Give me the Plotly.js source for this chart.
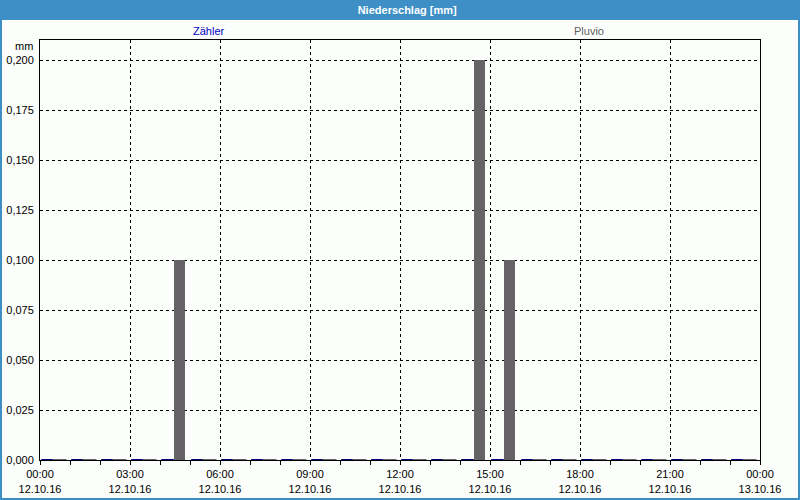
<!DOCTYPE html>
<html>
<head>
<meta charset="utf-8">
<script src="https://cdn.plot.ly/plotly-3.0.1.min.js"></script>
<style>
  html, body { margin: 0; padding: 0; background: #fcfefc; }
  #chart { width: 800px; height: 500px; }
</style>
</head>
<body>
<div id="chart"></div>
<script>
// ---- data ----
var hours = [0,1,2,3,4,5,6,7,8,9,10,11,12,13,14,15,16,17,18,19,20,21,22,23];
var zaehler = [0,0,0,0,0,0,0,0,0,0,0,0,0,0,0,0,0,0,0,0,0,0,0,0];
var pluvio  = [0,0,0,0,0.1,0,0,0,0,0,0,0,0,0,0.2,0.1,0,0,0,0,0,0,0,0];
var tickHours = [0,3,6,9,12,15,18,21,24];
var tickText = ['00:00<br>12.10.16','03:00<br>12.10.16','06:00<br>12.10.16','09:00<br>12.10.16',
                '12:00<br>12.10.16','15:00<br>12.10.16','18:00<br>12.10.16','21:00<br>12.10.16',
                '00:00<br>13.10.16'];
var yTicks = [0,0.025,0.05,0.075,0.1,0.125,0.15,0.175,0.2];
var seriesNames = ['Zähler','Pluvio'];

// ---- styles ----
var navy = '#000080', grey = '#656365';
var zOff = 0.10, zW = 0.30, pOff = 0.467, pW = 0.366;

function zeroMarks(vals, off, w, color, sizePx) {
  var xs = [], ys = [];
  vals.forEach(function (v, i) { if (v === 0) { xs.push(hours[i] + off + w / 2); ys.push(v); } });
  return { type: 'scatter', mode: 'markers', x: xs, y: ys, hoverinfo: 'skip', showlegend: false,
    cliponaxis: false,
    marker: { symbol: 'line-ew', size: sizePx, color: color, line: { color: color, width: 2 } } };
}

var traces = [
  { type: 'bar', name: seriesNames[0], x: hours, y: zaehler, offset: zOff, width: zW,
    marker: { color: navy }, showlegend: false },
  { type: 'bar', name: seriesNames[1], x: hours, y: pluvio, offset: pOff, width: pW,
    marker: { color: grey }, showlegend: false },
  zeroMarks(zaehler, zOff, zW, navy, 9),
  zeroMarks(pluvio, pOff, pW, grey, 10)
];

var fnt = { family: 'Liberation Sans, Arial, sans-serif', size: 11, color: '#000000' };
var PW = 720, PH = 420;

var layout = {
  width: 800, height: 500,
  margin: { l: 40, r: 40, t: 40, b: 40, pad: 0 },
  paper_bgcolor: '#fcfefc', plot_bgcolor: '#fcfefc',
  barmode: 'overlay',
  separators: ',.',
  font: fnt,
  showlegend: false,
  title: { text: '<b>Niederschlag [mm]</b>', font: { family: 'Liberation Sans, Arial, sans-serif', size: 11, color: '#ffffff' },
           x: 0.51, xref: 'paper', y: 0.98, yref: 'container', yanchor: 'middle' },
  xaxis: {
    range: [0, 24], tickmode: 'array', tickvals: tickHours, ticktext: tickText,
    showgrid: true, gridcolor: '#000000', gridwidth: 1, griddash: '3px,3px',
    showline: true, linecolor: '#000000', linewidth: 1, mirror: true,
    ticks: 'outside', ticklen: 4, tickcolor: '#000000', tickfont: fnt,
    minor: { dtick: 1, tick0: 0, ticks: 'outside', ticklen: 4, tickcolor: '#000000', showgrid: false },
    zeroline: false, fixedrange: true
  },
  yaxis: {
    range: [0, 0.21], tickmode: 'array', tickvals: yTicks, tickformat: '.3f',
    showgrid: true, gridcolor: '#000000', gridwidth: 1, griddash: '3px,3px',
    showline: true, linecolor: '#000000', linewidth: 1, mirror: true,
    ticks: '', tickfont: fnt, ticklabelstandoff: 3,
    zeroline: false, fixedrange: true
  },
  shapes: [
    { type: 'rect', xref: 'paper', yref: 'paper', layer: 'below',
      x0: -40 / PW, x1: 1 + 40 / PW, y0: 1 + 20 / PH, y1: 1 + 40 / PH,
      fillcolor: '#3d8fc6', line: { width: 0 } },
    { type: 'rect', xref: 'paper', yref: 'paper', layer: 'above',
      x0: -40 / PW, x1: 1 + 40 / PW, y0: -40 / PH, y1: 1 + 40 / PH,
      fillcolor: 'rgba(0,0,0,0)', line: { color: '#3d8fc6', width: 4 } }
  ],
  annotations: [
    { text: seriesNames[0], xref: 'paper', yref: 'paper', x: (209 - 40) / PW, y: 1 + 9 / PH,
      showarrow: false, xanchor: 'center', yanchor: 'middle',
      font: { family: fnt.family, size: 11, color: '#0000c0' } },
    { text: seriesNames[1], xref: 'paper', yref: 'paper', x: (589 - 40) / PW, y: 1 + 9 / PH,
      showarrow: false, xanchor: 'center', yanchor: 'middle',
      font: { family: fnt.family, size: 11, color: '#606060' } },
    { text: 'mm', xref: 'paper', yref: 'paper', x: -5 / PW, y: 1 - 6 / PH,
      showarrow: false, xanchor: 'right', yanchor: 'middle', font: fnt }
  ]
};

Plotly.newPlot('chart', traces, layout, { displayModeBar: false, staticPlot: true });
</script>
</body>
</html>
